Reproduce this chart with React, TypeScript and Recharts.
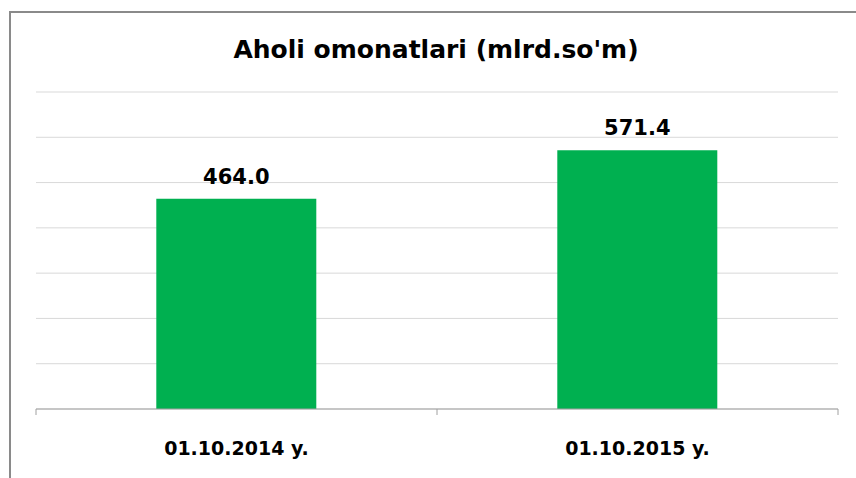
import { BarChart, Bar, XAxis, YAxis, CartesianGrid, LabelList } from "recharts";

const dates = ["01.10.2014 y.", "01.10.2015 y."];
const savings = [464.0, 571.4];
const yTicks = [0, 100, 200, 300, 400, 500, 600, 700];

const data = dates.map((d, i) => ({ date: d, value: savings[i] }));

const font = "'DejaVu Sans', 'Open Sans', sans-serif";

// category label plus the tick marks that sit on the category boundaries
function DateTick(props: any) {
  const { x, y, payload } = props;
  const half = payload?.offset ?? 200.5;
  const last = payload?.index === dates.length - 1;
  return (
    <g>
      <line x1={x - half} x2={x - half} y1={y} y2={y + 6} stroke="#a0a0a0" />
      {last && <line x1={x + half} x2={x + half} y1={y} y2={y + 6} stroke="#a0a0a0" />}
      <text
        x={x}
        y={y + 46}
        textAnchor="middle"
        fontSize={19}
        fontWeight="bold"
        fill="#000"
        fontFamily={font}
      >
        {payload.value}
      </text>
    </g>
  );
}

export default function App() {
  return (
    <div
      style={{
        position: "absolute",
        left: 0,
        top: 0,
        width: 856,
        height: 478,
        background: "#fff",
        overflow: "hidden",
        fontFamily: font,
      }}
    >
      <div
        style={{
          position: "absolute",
          left: 9,
          top: 11,
          width: 900,
          height: 520,
          borderLeft: "2px solid #8a8a8a",
          borderTop: "2px solid #8a8a8a",
        }}
      />
      <div
        style={{
          position: "absolute",
          left: 0,
          width: 872,
          top: 35,
          textAlign: "center",
          fontSize: 25,
          fontWeight: "bold",
          color: "#000",
        }}
      >
        Aholi omonatlari (mlrd.so'm)
      </div>
      <BarChart
        width={856}
        height={478}
        data={data}
        margin={{ top: 92, right: 18, bottom: 0, left: 36 }}
        barCategoryGap="30%"
        style={{ position: "absolute", left: 0, top: 0 }}
      >
        <CartesianGrid vertical={false} stroke="#d9d9d9" />
        <YAxis hide domain={[0, 700]} ticks={yTicks} />
        <XAxis
          dataKey="date"
          axisLine={{ stroke: "#a0a0a0" }}
          tickLine={false}
          tickSize={0}
          tickMargin={0}
          height={69}
          tick={<DateTick />}
        />
        <Bar dataKey="value" fill="#00b050" isAnimationActive={false}>
          <LabelList
            dataKey="value"
            position="top"
            offset={15}
            formatter={(v: number) => v.toFixed(1)}
            style={{ fontSize: 21, fontWeight: "bold", fill: "#000", fontFamily: font }}
          />
        </Bar>
      </BarChart>
    </div>
  );
}
